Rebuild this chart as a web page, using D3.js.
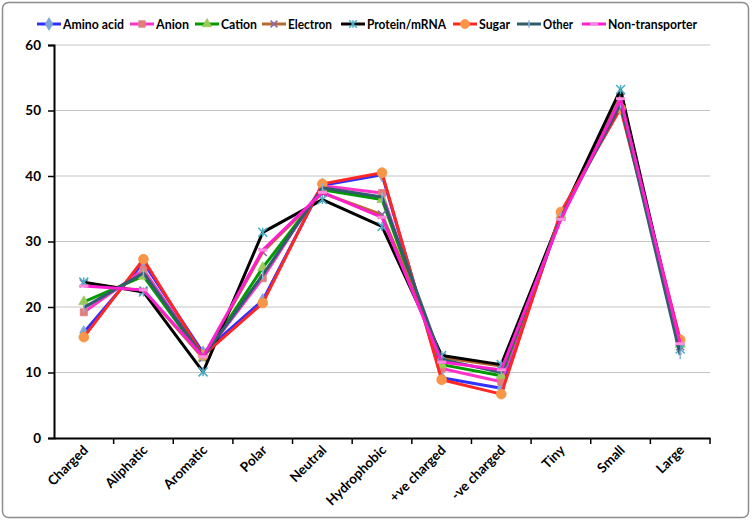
<!DOCTYPE html>
<html><head><meta charset="utf-8">
<script src="https://cdn.jsdelivr.net/npm/d3@7"></script>
<style>body{margin:0;background:#fff}svg{display:block}text{font-family:Lato,"Open Sans",sans-serif;font-weight:bold}</style>
</head><body><svg id="c" width="753" height="522"></svg>
<script>
const categories = ["Charged","Aliphatic","Aromatic","Polar","Neutral","Hydrophobic","+ve charged","-ve charged","Tiny","Small","Large"];
const seriesNames = ["Amino acid","Anion","Cation","Electron","Protein/mRNA","Sugar","Other","Non-transporter"];
const aminoAcid      = [16.1, 26.8, 13.0, 21.0, 38.6, 40.2,  9.2,  7.6, 34.0, 51.5, 14.3];
const anion          = [19.2, 25.7, 12.4, 24.4, 38.5, 37.4, 10.6,  8.6, 33.9, 51.4, 14.9];
const cation         = [20.8, 24.7, 12.2, 26.0, 37.9, 36.4, 11.2,  9.5, 34.0, 51.3, 14.3];
const electron       = [23.6, 22.5, 12.2, 28.4, 37.4, 34.1, 12.3, 11.0, 33.8, 52.0, 14.0];
const proteinMRNA    = [23.8, 22.3, 10.1, 31.4, 36.4, 32.3, 12.6, 11.2, 33.9, 53.2, 13.6];
const sugar          = [15.4, 27.3, 12.6, 20.6, 38.8, 40.5,  8.9,  6.7, 34.5, 50.3, 15.0];
const other          = [19.9, 25.2, 12.4, 24.9, 38.2, 36.8, 12.0, 10.0, 33.7, 51.0, 12.7];
const nonTransporter = [23.2, 22.6, 12.4, 28.7, 37.5, 33.7, 11.6, 10.4, 33.4, 51.8, 14.4];
const yTicks = [0,10,20,30,40,50,60];

const allValues = [aminoAcid, anion, cation, electron, proteinMRNA, sugar, other, nonTransporter];
const styles = [
  {line:"#2f2fff", fill:"#7aa6d8", shape:"diamond"},
  {line:"#ff33cc", fill:"#e07e7e", shape:"square"},
  {line:"#009a00", fill:"#9bc95a", shape:"triangle"},
  {line:"#b8682e", fill:"#8a6aa8", shape:"x"},
  {line:"#000000", fill:"#4bacc6", shape:"star"},
  {line:"#ff2626", fill:"#f79646", shape:"circle"},
  {line:"#2f5d6e", fill:"#8fb3df", shape:"plus"},
  {line:"#ff1fcf", fill:"#ff8fdc", shape:"dash"}
];
// legend layout (line start x, text width) per series
const legendLayout = [[37,61],[130,33],[195,36],[262,44],[341,79],[453,31],[517,30],[582,89]];
const series = seriesNames.map((n,i)=>({name:n, values:allValues[i], style:styles[i]}));

const svg = d3.select("#c");
svg.append("rect").attr("x",2.5).attr("y",2.5).attr("width",746).attr("height",515).attr("rx",6)
  .attr("fill","#fff").attr("stroke","#8c8c8c").attr("stroke-width",1.5);

const x = d3.scaleBand().domain(categories).range([54,710]);
const y = d3.scaleLinear().domain([0,60]).range([438,45]);

svg.append("g").selectAll("line").data(yTicks.filter(d=>d>0)).join("line")
  .attr("x1",54).attr("x2",710).attr("y1",d=>y(d)).attr("y2",d=>y(d))
  .attr("stroke","#c4c4c4").attr("stroke-width",1);

const ya = svg.append("g").attr("transform","translate(54,0)")
  .call(d3.axisLeft(y).tickValues(yTicks).tickSize(6).tickPadding(7));
ya.select(".domain").attr("stroke","#000").attr("stroke-width",2);
ya.selectAll(".tick line").attr("stroke","#000").attr("stroke-width",1.5);
ya.selectAll("text").attr("font-size",13.5).attr("fill","#000").style("font-weight","bold");

const xa = svg.append("g").attr("transform","translate(0,438)")
  .call(d3.axisBottom(x).tickSize(0).tickPadding(0).tickFormat(""));
xa.select(".domain").attr("stroke","#000").attr("stroke-width",2);
svg.append("g").selectAll("line").data(categories.map((c,i)=>i+1)).join("line")
  .attr("x1",i=>54+i*x.step()).attr("x2",i=>54+i*x.step()).attr("y1",438).attr("y2",444)
  .attr("stroke","#000").attr("stroke-width",1.5);
svg.append("g").selectAll("text").data(categories).join("text")
  .attr("transform",d=>`translate(${x(d)+x.bandwidth()/2+5},${451}) rotate(-45)`)
  .attr("text-anchor","end").attr("font-size",13.5).attr("fill","#000").text(d=>d);

const line = d3.line().x((d,i)=>x(categories[i])+x.bandwidth()/2).y(d=>y(d));
const sym = {diamond:d3.symbolDiamond, square:d3.symbolSquare, triangle:d3.symbolTriangle, circle:d3.symbolCircle};
function drawMarker(g, shape, fill, cx, cy, scale){
  scale = scale||1;
  if (sym[shape]) {
    const sz = {diamond:55, square:50, triangle:45, circle:75}[shape]*scale;
    g.append("path").attr("d", d3.symbol(sym[shape], sz)()).attr("transform",`translate(${cx},${cy})`)
      .attr("fill",fill).attr("stroke",fill).attr("stroke-width",0.8);
  } else if (shape==="x") {
    const r=4*scale;
    g.append("path").attr("d",`M${cx-r},${cy-r}L${cx+r},${cy+r}M${cx-r},${cy+r}L${cx+r},${cy-r}`).attr("stroke",fill).attr("stroke-width",1.5);
  } else if (shape==="star") {
    const r=4.5*scale;
    g.append("path").attr("d",`M${cx-r},${cy-r}L${cx+r},${cy+r}M${cx-r},${cy+r}L${cx+r},${cy-r}M${cx},${cy-r}L${cx},${cy+r}`).attr("stroke",fill).attr("stroke-width",1.5);
  } else if (shape==="plus") {
    const r=4.5*scale;
    g.append("path").attr("d",`M${cx},${cy-r}L${cx},${cy+r}`).attr("stroke",fill).attr("stroke-width",1.5);
  } else if (shape==="dash") {
    const r=4.5*scale;
    g.append("path").attr("d",`M${cx-r},${cy}L${cx+r},${cy}`).attr("stroke",fill).attr("stroke-width",3);
  }
}
series.forEach(s=>{
  const g = svg.append("g");
  g.append("path").datum(s.values).attr("d",line).attr("fill","none")
    .attr("stroke",s.style.line).attr("stroke-width",3).attr("stroke-linejoin","round");
  s.values.forEach((v,i)=>drawMarker(g, s.style.shape, s.style.fill, x(categories[i])+x.bandwidth()/2, y(v)));
});

const lg = svg.append("g");
series.forEach((s,i)=>{
  const [lx, tw] = legendLayout[i];
  lg.append("line").attr("x1",lx).attr("x2",lx+24).attr("y1",24).attr("y2",24)
    .attr("stroke",s.style.line).attr("stroke-width",3);
  drawMarker(lg, s.style.shape, s.style.fill, lx+12, 24, 0.85);
  lg.append("text").attr("x",lx+26).attr("y",29).attr("font-size",14).attr("fill","#000")
    .attr("textLength",tw).attr("lengthAdjust","spacingAndGlyphs").text(s.name);
});
</script></body></html>
